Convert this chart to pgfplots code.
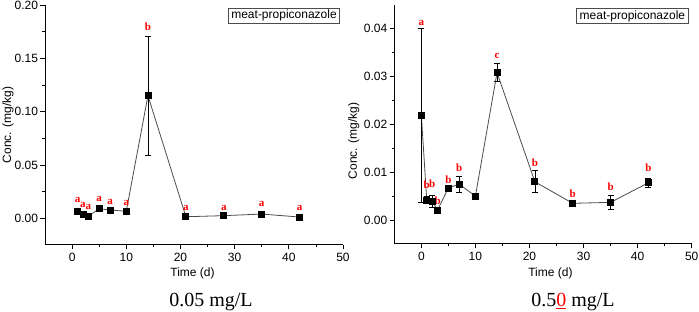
\documentclass[border=0pt]{standalone}
\usepackage{pgfplots}
\pgfplotsset{compat=1.18}
\usepackage{pgfplotstable}
\usepackage{fontspec}
\setmainfont{Liberation Sans}
\newfontfamily\serif{Liberation Serif}

\pgfplotstableread{
x y e
1 0.0062 0.0005
2 0.0040 0.0005
3 0.0020 0.0004
5 0.0090 0.0006
7 0.0078 0.0004
10 0.0066 0.0005
14 0.115 0.056
21 0.0015 0.0003
28 0.0025 0.0003
35 0.0040 0.0010
42 0.0012 0.0003
}\lowdata

\pgfplotstableread{
x y e
0 0.0219 0.0181
1 0.0042 0.0008
2 0.0039 0.0013
3 0.0021 0.0003
5 0.0067 0.0003
7 0.0075 0.0016
10 0.0050 0.0005
14 0.0308 0.0019
21 0.0080 0.0023
28 0.0035 0.0003
35 0.0037 0.0015
42 0.0078 0.0009
}\highdata

\pgfplotsset{
 panel/.style={
  scale only axis,
  axis x line*=bottom, axis y line*=left,
  axis line style={-, line width=1pt},
  tick align=outside,
  xmin=-5, xmax=50, xtick={0,10,...,50}, minor x tick num=1,
  minor y tick num=1,
  major tick length=4.5pt, minor tick length=2.5pt,
  every tick/.style={black, line width=0.8pt},
  tick label style={font=\fontsize{12}{13}\selectfont},
  yticklabel style={xshift=1pt},
  /pgf/number format/assume math mode=true,
  label style={font=\fontsize{12}{14}\selectfont},
  xlabel={Time (d)}, ylabel={Conc. (mg/kg)},
  yticklabel style={/pgf/number format/fixed, /pgf/number format/fixed zerofill, /pgf/number format/precision=2},
  scaled y ticks=false,
  clip=false,
 },
 series/.style={black!70, line width=0.8pt, mark=square*,
  mark options={black, fill=black, mark size=3pt},
  error bars/.cd, y dir=both, y explicit,
  error bar style={black, line width=0.6pt},
  error mark options={black, mark size=3pt, line width=0.6pt, rotate=90}},
}
\tikzset{
 lab/.style={text=red, font=\serif\bfseries\fontsize{11}{12}\selectfont, inner sep=0pt},
 leg/.style={draw=black!70, line width=0.6pt, fill=white, font=\fontsize{12}{13}\selectfont, inner xsep=3pt, inner ysep=1.8pt, anchor=north east}
}

\begin{document}
\begin{tikzpicture}
\useasboundingbox (0,0) rectangle (699pt,312pt);
\begin{axis}[panel, at={(45pt,67pt)}, anchor=south west, width=298pt, height=240pt,
  ymin=-0.025, ymax=0.20, ytick={0,0.05,0.10,0.15,0.20},
  xlabel style={at={(axis description cs:0.495,-0.117)}, anchor=center},
  ylabel style={at={(axis description cs:-0.124,0.5)}, anchor=center}]
\addplot+[series] table[x=x, y=y, y error=e] {\lowdata};
\node[lab] at (axis cs:1,0.0173) {a};
\node[lab] at (axis cs:2,0.0125) {a};
\node[lab] at (axis cs:3,0.0104) {a};
\node[lab] at (axis cs:5,0.0179) {a};
\node[lab] at (axis cs:7,0.0157) {a};
\node[lab] at (axis cs:10,0.0147) {a};
\node[lab] at (axis cs:14,0.1798) {b};
\node[lab] at (axis cs:21,0.0094) {a};
\node[lab] at (axis cs:28,0.0094) {a};
\node[lab] at (axis cs:35,0.0132) {a};
\node[lab] at (axis cs:42,0.0094) {a};
\node[leg] at (rel axis cs:0.99,0.987) {meat-propiconazole};
\end{axis}
\begin{axis}[panel, at={(394.3pt,68pt)}, anchor=south west, width=297.4pt, height=239.3pt,
  ymin=-0.005, ymax=0.045, ytick={0,0.01,0.02,0.03,0.04},
  xlabel style={at={(axis description cs:0.525,-0.122)}, anchor=center},
  ylabel style={at={(axis description cs:-0.136,0.43)}, anchor=center}]
\addplot+[series] table[x=x, y=y, y error=e] {\highdata};
\node[lab] at (axis cs:0,0.0411) {a};
\node[lab] at (axis cs:1,0.0073) {b};
\node[lab] at (axis cs:2,0.0075) {b};
\node[lab] at (axis cs:3,0.0040) {b};
\node[lab] at (axis cs:5,0.0084) {b};
\node[lab] at (axis cs:7,0.0110) {b};
\node[lab] at (axis cs:14,0.0342) {c};
\node[lab] at (axis cs:21,0.0119) {b};
\node[lab] at (axis cs:28,0.0056) {b};
\node[lab] at (axis cs:35,0.0070) {b};
\node[lab] at (axis cs:42,0.0110) {b};
\node[leg] at (rel axis cs:0.989,0.985) {meat-propiconazole};
\end{axis}
\node[font=\serif\fontsize{20}{22}\selectfont, anchor=base] at (211pt,5.5pt) {0.05 mg/L};
\node[font=\serif\fontsize{20}{22}\selectfont, anchor=base] at (573pt,5.5pt) {0.5\textcolor{red}{\underline{0}} mg/L};
\end{tikzpicture}
\end{document}
